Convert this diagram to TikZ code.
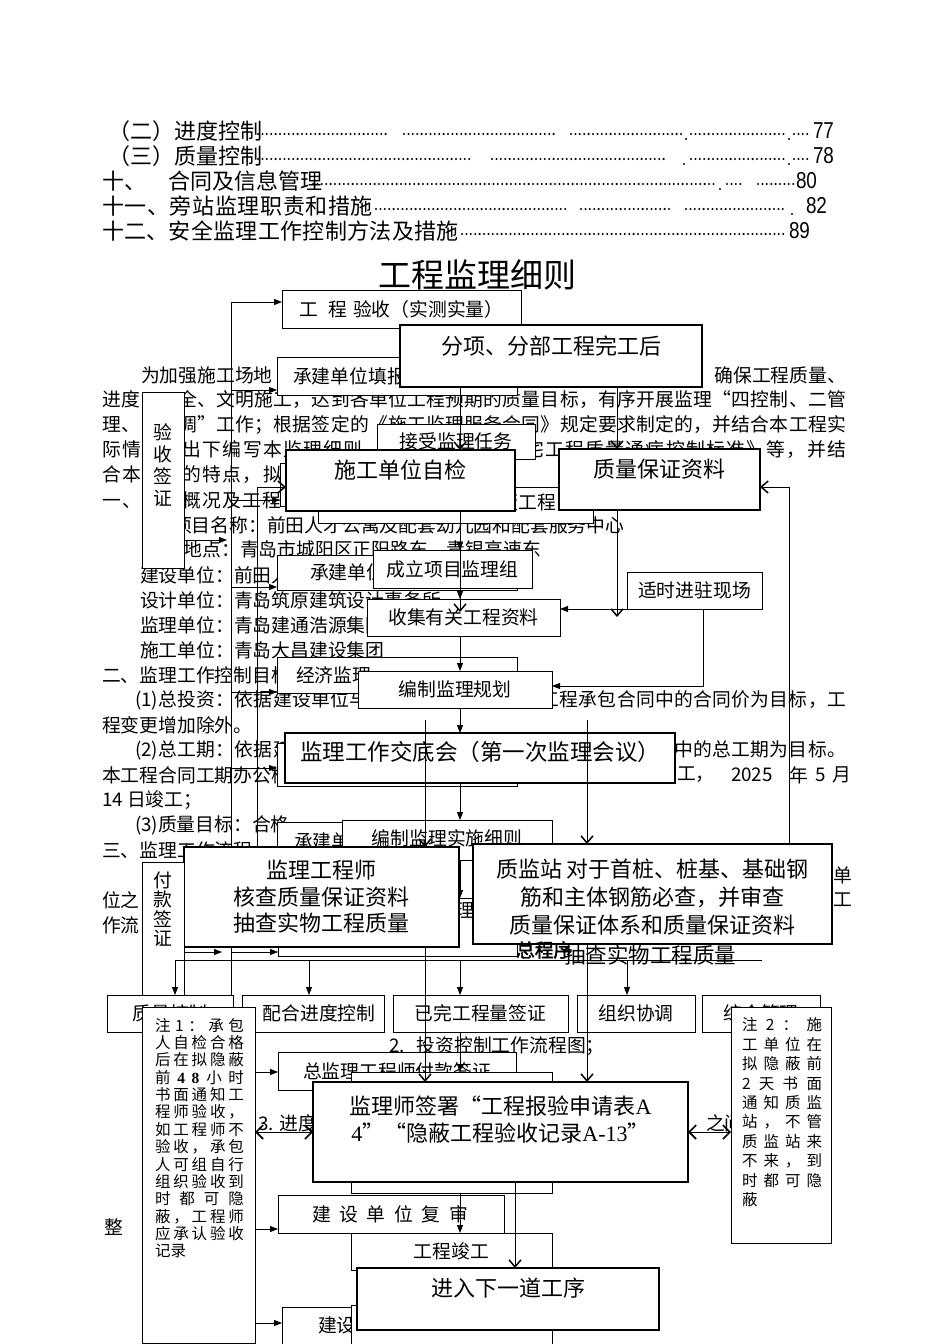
\documentclass[tikz,border=0pt]{standalone}
\usepackage{fontspec}
\usepackage{graphicx}
\setmainfont{Noto Sans CJK SC}
\newfontfamily\lserif{Liberation Serif}
\newfontfamily\lsans{Liberation Sans}
\newfontfamily\cjkbold[FakeBold=2]{Noto Sans CJK SC}
\usetikzlibrary{arrows.meta}
\def\sprd#1{\ifx#1\relax\else#1\hfil\expandafter\sprd\fi}
\newcommand\jl[2]{\hbox to #1{\sprd#2\relax\unskip}}
\newcommand\pnum[1]{\scalebox{0.82}[1]{\lsans\fontsize{23}{23}\selectfont #1}}
\newcommand\bx[6]{\node[#1, anchor=north west, minimum width={#5-#3}, minimum height={#6-#4}] (#2) at (#3,#4) {};}
\begin{document}
\begin{tikzpicture}[x=1pt,y=-1pt,
 every node/.style={inner sep=0pt, outer sep=0pt},
 thinbox/.style={draw, line width=0.9pt, fill=white},
 boldbox/.style={draw, line width=2.5pt, fill=white},
 midbox/.style={draw, line width=1.4pt, fill=white},
 para/.style={anchor=west, font=\fontsize{18.8}{22}\selectfont},
 btxt/.style={font=\fontsize{18.8}{22}\selectfont},
 ctxt/.style={font=\fontsize{22}{27}\selectfont, align=center},
 vtxt/.style={font=\fontsize{18.8}{22}\selectfont, align=center},
 notetxt/.style={anchor=west, font=\fontsize{15.5}{17}\selectfont},
 toc/.style={anchor=west, font=\fontsize{22}{24}\selectfont},
 pn/.style={anchor=west},
 conn/.style={line width=0.8pt},
 fa/.style={line width=0.8pt, -{Triangle[length=8pt,width=6pt]}},
 oa/.style={line width=0.8pt, -{Straight Barb[length=7pt,width=12pt,line width=1.5pt]}},
 dbl/.style={line width=0.8pt, {Straight Barb[length=7pt,width=14pt,line width=1.6pt]}-{Straight Barb[length=7pt,width=14pt,line width=1.6pt]}},
 tocdots/.style={line width=2.3pt, line cap=round, dash pattern=on 0pt off 4.4pt},
]
\fill[white] (0,0) rectangle (950,1344);
\useasboundingbox (0,0) rectangle (950,1344);

% ---------------- table of contents ----------------
\node[toc] (toc1) at (108,131) {\jl{147pt}{（二）进度控制}};
\draw[tocdots] (258,134) -- (387,134) (404,134) -- (557,134) (571,134) -- (681,134) (691,134) -- (784,134) (794,134) -- (811,134);
\fill (686,139) circle (1.1pt) (789,139) circle (1.1pt);
\node[pn] (pn1) at (813,131) {\pnum{77}};

\node[toc] (toc2) at (108,156) {\jl{147pt}{（三）质量控制}};
\draw[tocdots] (258,159) -- (471,159) (492,159) -- (665,159) (691,159) -- (784,159) (794,159) -- (811,159);
\fill (684,164) circle (1.1pt) (789,164) circle (1.1pt);
\node[pn] (pn2) at (813,156) {\pnum{78}};

\node[toc] (toc3) at (102,181) {\jl{209pt}{十、　合同及信息管理}};
\draw[tocdots] (313,184) -- (715,184) (727,184) -- (744,184) (758,184) -- (794,184);
\fill (720,189) circle (1.1pt);
\node[pn] (pn3) at (796,181) {\pnum{80}};

\node[toc] (toc4) at (102,206) {\jl{271pt}{十一、旁站监理职责和措施}};
\draw[tocdots] (376,209) -- (566,209) (581,209) -- (669,209) (686,209) -- (787,209);
\fill (792,214) circle (1.1pt);
\node[pn] (pn4) at (806,206) {\pnum{82}};

\node[toc] (toc5) at (102,231) {\jl{357pt}{十二、安全监理工作控制方法及措施}};
\draw[tocdots] (462,234) -- (787,234);
\node[pn] (pn5) at (789,231) {\pnum{89}};

\node (title) at (477,275) {\fontsize{33}{36}\selectfont 工程监理细则};

% ---------------- background paragraph ----------------
\node[para] (pa1) at (141,375) {为加强施工场地};
\node[para, anchor=east] (pa1r) at (846,375) {确保工程质量、};
\node[para] (pa2) at (102,400) {\jl{744pt}{进度　　全、文明施工，达到各单位工程预期的质量目标，有序开展监理“四控制、二管}};
\node[para] (pa3) at (102,425) {\jl{744pt}{理、　　调”工作；根据签定的《施工监理服务合同》规定要求制定的，并结合本工程实}};
\node[para] (pa4) at (102,450) {\jl{744pt}{际情　　出下编写本监理细则，依据《青岛市住宅工程质量通病控制标准》等，并结}};
\node[para] (pa5) at (102,475) {\jl{200pt}{合本　　的特点，拟定}};
\node[para] (pa6) at (102,500) {\jl{220pt}{一、　　概况及工程特点}};
\node[para] (pa7) at (173,525) {项目名称：前田人才公寓及配套幼儿园和配套服务中心};
\node[para] (pa8) at (183.6,550) {地点：青岛市城阳区正阳路东，青银高速东};
\node[para] (pa9) at (140,575) {建设单位：前田人};
\node[para] (pa10) at (140,600) {设计单位：青岛筑原建筑设计事务所};
\node[para] (pa11) at (140,625) {监理单位：青岛建通浩源集团};
\node[para] (pa12) at (140,650) {施工单位：青岛大昌建设集团};
\node[para] (pa13) at (102,675) {二、监理工作控制目标};
\node[para] (pa14) at (135,700) {\jl{711pt}{{(1)}总投资：依据建设单位与　　　　　　　　　工程承包合同中的合同价为目标，工}};
\node[para] (pa15) at (102,725) {程变更增加除外。};
\node[para] (pa16) at (135,750) {\jl{711pt}{{(2)}总工期：依据建　　　　　　　　　　　　　　　　　　　　中的总工期为目标。}};
\node[para] (pa17) at (102,775) {本工程合同工期办公楼};
\node[para] (pa17a) at (677,775) {工，};
\node[para] (pa17b) at (731,775) {2025};
\node[para] (pa17c) at (789,775) {年};
\node[para] (pa17d) at (815,775) {5};
\node[para] (pa17e) at (832,775) {月};
\node[para] (pa18) at (102,800) {14 日竣工；};
\node[para] (pa19) at (135,825) {(3)质量目标：合格};
\node[para] (pa20) at (102,850) {三、监理工作流程};
\node[para] (pa21) at (833,875) {单};
\node[para] (pa22) at (102,900) {位之};
\node[para] (pa22r) at (833,900) {工};
\node[para] (pa23) at (102,925) {作流};
\node[para] (pa25) at (389,1046) {2.\hspace{12pt}投资控制工作流程图；};
\node[para] (pa26) at (258,1123) {3.\hspace{6pt}进度};
\node[para] (pa27) at (706,1123) {之间};
\node[para] (pa28) at (104,1227) {整};

% ---------------- lower layer (left flow) ----------------
\bx{thinbox}{a1}{282}{290}{521}{328}
\node[btxt] (ta1) at (a1.center) {工\hspace{10pt}程\hspace{6pt}验收（实测实量）};
\bx{thinbox}{a2}{277}{357}{517}{395}
\node[para] (ta2) at (293,376) {承建单位填报};
\bx{thinbox}{a3s}{280}{463}{400}{506}
\bx{thinbox}{a3}{318}{487}{593}{523}
\node[para, anchor=east] (ta3) at (556,502) {隐蔽工程};
\bx{thinbox}{a4}{277}{555}{517}{590}
\node[para] (ta4) at (310,572) {承建单位};
\bx{thinbox}{a5}{277}{657}{517}{693}
\node[para] (ta5) at (296,675) {经济监理};
\bx{thinbox}{a6}{277}{743}{517}{786}
\bx{thinbox}{a7}{277}{822}{517}{860}
\node[para] (ta7) at (294,841) {承建单位};
\bx{thinbox}{a8}{278}{898}{517}{956}
\node[para] (ta8) at (437,910) {监理};

\coordinate (spT) at (231,302);
\coordinate (spB) at (231,1000);
\draw[conn] (spT) -- (spB);
\draw[fa] (spT) -- (spT -| a1.west);
\draw[fa] (231,390) -- (231,390 -| a2.west);
\draw[fa] (231,500) -- (231,500 -| a3s.west);
\draw[fa] (231,587) -- (231,587 -| a4.west);
\draw[fa] (231,692) -- (231,692 -| a5.west);
\draw[fa] (231,768) -- (231,768 -| a6.west);
\draw[fa] (231,952) -- (231,952 -| a8.west);

% ---------------- middle chain ----------------
\bx{thinbox}{b1}{377}{424}{535}{459}
\node[btxt] (tb1) at (b1.center) {接受监理任务};
\bx{thinbox}{b2}{373}{550}{532}{588}
\node[btxt] (tb2) at (b2.center) {成立项目监理组};
\bx{thinbox}{b3}{367}{599}{560}{636}
\node[btxt] (tb3) at (b3.center) {收集有关工程资料};
\bx{thinbox}{b4}{358}{671}{552}{708}
\node[btxt] (tb4) at (b4.center) {编制监理规划};
\bx{thinbox}{b5}{627}{572}{762}{609}
\node[btxt] (tb5) at (b5.center) {适时进驻现场};
\bx{thinbox}{b6}{342}{820}{552}{860}
\node[btxt] (tb6) at ([yshift=2pt]b6.center) {编制监理实施细则};

\draw[fa] (460,0 |- b1.south) -- (460,0 |- b2.north);
\draw[fa] (460,0 |- b2.south) -- (460,0 |- b3.north);
\draw[fa] (460,0 |- b3.south) -- (460,0 |- b4.north);
\draw[fa] (b5.south west) -- (b5.south west -| b3.east);
\draw[fa] (703,0 |- b5.south) -- (703,686) -- (703,686 -| b4.east);

% ---------------- upper layer ----------------
\bx{boldbox}{c1}{400}{325}{702}{387}
\node[ctxt] (tc1) at ([yshift=10pt]c1.center) {分项、分部工程完工后};
\draw[oa] (460,0 |- c1.south) -- (460,450);
\draw[oa] (617,0 |- c1.south) -- (617,449);
\bx{boldbox}{c2}{286}{450}{515}{511}
\node[ctxt] (tc2) at ([yshift=10pt]c2.center) {施工单位自检};
\bx{boldbox}{c3}{559}{449}{760}{510}
\node[ctxt] (tc3) at ([yshift=10pt]c3.center) {质量保证资料};
\draw[oa] (460,0 |- c2.south) -- (460,612);
\draw[oa] (617,0 |- c3.south) -- (617,617);

\bx{thinbox}{s1}{142}{392}{184}{568}
\node[vtxt] (ts1) at (163,465) {验\\收\\签\\证};
\draw[fa] (s1.east |- 0,540) -- (227,540);

\bx{midbox}{c4}{285}{733}{675}{783}
\node[ctxt, font=\fontsize{22.5}{27}\selectfont] (tc4) at ([yshift=6pt]c4.center) {监理工作交底会（第一次监理会议）};
\draw[fa] (460,0 |- b4.south) -- (460,0 |- c4.north);
\draw[fa] (460,0 |- c4.south) -- (460,0 |- b6.north);
\draw[fa] (460,0 |- b6.south) -- (460,0 |- a8.north);

\coordinate (lA) at (425,720);
\coordinate (lB) at (587,720);
\draw[oa] (lA) -- (425,847);
\draw[oa] (lB) -- (587,844);
\draw[oa] (257,847) -- (257,487) -- (286,487);
\draw[oa] (789,844) -- (789,487) -- (760,487);

\bx{boldbox}{c5}{184}{847}{459}{947}
\node[ctxt, font=\fontsize{22}{26.5}\selectfont] (tc5) at (c5.center) {监理工程师\\核查质量保证资料\\抽查实物工程质量};
\bx{boldbox}{c6}{473}{844}{832}{944}
\node[ctxt, font=\fontsize{22}{28}\selectfont] (tc6) at ([yshift=-3pt]c6.center) {质监站 对于首桩、桩基、基础钢\\筋和主体钢筋必查，并审查\\质量保证体系和质量保证资料};
\bx{thinbox}{s2}{142}{862}{184}{1000}
\node[vtxt, font=\fontsize{18.8}{19.5}\selectfont] (ts2) at (163,909) {付\\款\\签\\证};
\draw[fa] (s2.east |- 0,952) -- (222,952);

\node[para, font=\cjkbold\fontsize{18.8}{22}\selectfont] (zcx) at (516,950) {总程序};
\node[para, font=\fontsize{21.5}{24}\selectfont] (ccsw) at (564,955) {抽查实物工程质量};

% ---------------- bottom row ----------------
\bx{thinbox}{a9}{107}{995}{233}{1032}
\node[btxt] (ta9) at (a9.center) {质量控制};
\bx{thinbox}{a10}{242}{995}{384}{1032}
\node[btxt] (ta10) at ([xshift=6pt]a10.center) {配合进度控制};
\bx{thinbox}{a11}{393}{995}{568}{1032}
\node[btxt] (ta11) at (a11.center) {已完工程量签证};
\bx{thinbox}{a12}{577}{995}{695}{1032}
\node[btxt] (ta12) at (a12.center) {组织协调};
\bx{thinbox}{a13}{702}{995}{820}{1032}
\node[btxt] (ta13) at (a13.center) {综合管理};
\draw[conn] (175,960) -- (762,960);
\draw[fa] (175,960) -- (175,0 |- a9.north);
\draw[fa] (309,960) -- (309,0 |- a10.north);
\draw[fa] (460,960) -- (460,0 |- a11.north);
\draw[fa] (627,960) -- (627,0 |- a12.north);

\bx{thinbox}{a14}{278}{1052}{516}{1090}
\node[btxt] (ta14) at (a14.center) {总监理工程师付款签证};
\bx{thinbox}{b7}{351}{1072}{552}{1193}
\bx{thinbox}{a15}{278}{1195}{504}{1233}
\node[btxt] (ta15) at (390,1214) {\jl{156pt}{建设单位复审}};
\bx{thinbox}{b8}{351}{1233}{552}{1270}
\node[btxt] (tb8) at (b8.center) {工程竣工};
\bx{thinbox}{a16}{282}{1307}{520}{1344}
\node[para] (ta16) at (318,1325) {建设};
\bx{thinbox}{b9}{351}{1305}{552}{1344}
\draw[fa] (460,0 |- a11.south) -- (460,0 |- b7.north);
\draw[fa] (460,0 |- b7.south) -- (460,0 |- b8.north);

\draw[oa] (425,0 |- c5.south) -- (425,1082);
\draw[oa] (587,0 |- c6.south) -- (587,1082);
\draw[oa] (515,1182) -- (515,1268);

% ---------------- notes ----------------
\bx{thinbox}{n1}{142}{1007}{255}{1343}
\node[notetxt] (n1a) at (155,1025) {\jl{89pt}{注1：承包}};
\node[notetxt] (n1b) at (155,1042.4) {\jl{89pt}{人自检合格}};
\node[notetxt] (n1c) at (155,1059.8) {\jl{89pt}{后在拟隐蔽}};
\node[notetxt] (n1d) at (155,1077.2) {\hbox to 89pt{前\hfil{\lserif\bfseries 4}\hfil{\lserif\bfseries 8}\hfil 小\hfil 时}};
\node[notetxt] (n1e) at (155,1094.6) {\jl{89pt}{书面通知工}};
\node[notetxt] (n1f) at (155,1112) {\jl{89pt}{程师验收，}};
\node[notetxt] (n1g) at (155,1129.4) {\jl{89pt}{如工程师不}};
\node[notetxt] (n1h) at (155,1146.8) {\jl{89pt}{验收，承包}};
\node[notetxt] (n1i) at (155,1164.2) {\jl{89pt}{人可组自行}};
\node[notetxt] (n1j) at (155,1181.6) {\jl{89pt}{组织验收到}};
\node[notetxt] (n1k) at (155,1199) {\jl{89pt}{时都可隐}};
\node[notetxt] (n1l) at (155,1216.4) {\jl{89pt}{蔽，工程师}};
\node[notetxt] (n1m) at (155,1233.8) {\jl{89pt}{应承认验收}};
\node[notetxt] (n1n) at (155,1251.2) {记录};

\bx{thinbox}{n2}{731}{1007}{831}{1243}
\node[notetxt] (n2a) at (742,1025) {\jl{80pt}{注2：施}};
\node[notetxt] (n2b) at (742,1044.4) {\jl{80pt}{工单位在}};
\node[notetxt] (n2c) at (742,1063.8) {\jl{80pt}{拟隐蔽前}};
\node[notetxt] (n2d) at (742,1083.2) {\jl{80pt}{2天书面}};
\node[notetxt] (n2e) at (742,1102.6) {\jl{80pt}{通知质监}};
\node[notetxt] (n2f) at (742,1122) {\jl{80pt}{站，不管}};
\node[notetxt] (n2g) at (742,1141.4) {\jl{80pt}{质监站来}};
\node[notetxt] (n2h) at (742,1160.8) {\jl{80pt}{不来，到}};
\node[notetxt] (n2i) at (742,1180.2) {\jl{80pt}{时都可隐}};
\node[notetxt] (n2j) at (742,1199.6) {蔽};

\draw[fa] (n1.east |- 0,1072) -- (0,1072 -| a14.west);
\draw[fa] (n1.east |- 0,1229) -- (0,1229 -| a15.west);
\draw[fa] (n1.east |- 0,1323) -- (0,1323 -| a16.west);

% ---------------- top boxes of lower part ----------------
\bx{boldbox}{c7}{313}{1082}{688}{1182}
\node[ctxt, font=\fontsize{22}{27}\selectfont] (tc7) at ([yshift=12pt]c7.center) {监理师签署“工程报验申请表{\lserif A}\\{\lserif 4}”“隐蔽工程验收记录{\lserif A-13}”};
\draw[dbl] (n1.east |- 0,1132) -- (0,1132 -| c7.west);
\draw[dbl] (0,1132 -| c7.east) -- (0,1132 -| n2.west);
\bx{boldbox}{c8}{357}{1268}{659}{1330}
\node[ctxt] (tc8) at ([yshift=11pt]c8.center) {进入下一道工序};
\end{tikzpicture}
\end{document}
